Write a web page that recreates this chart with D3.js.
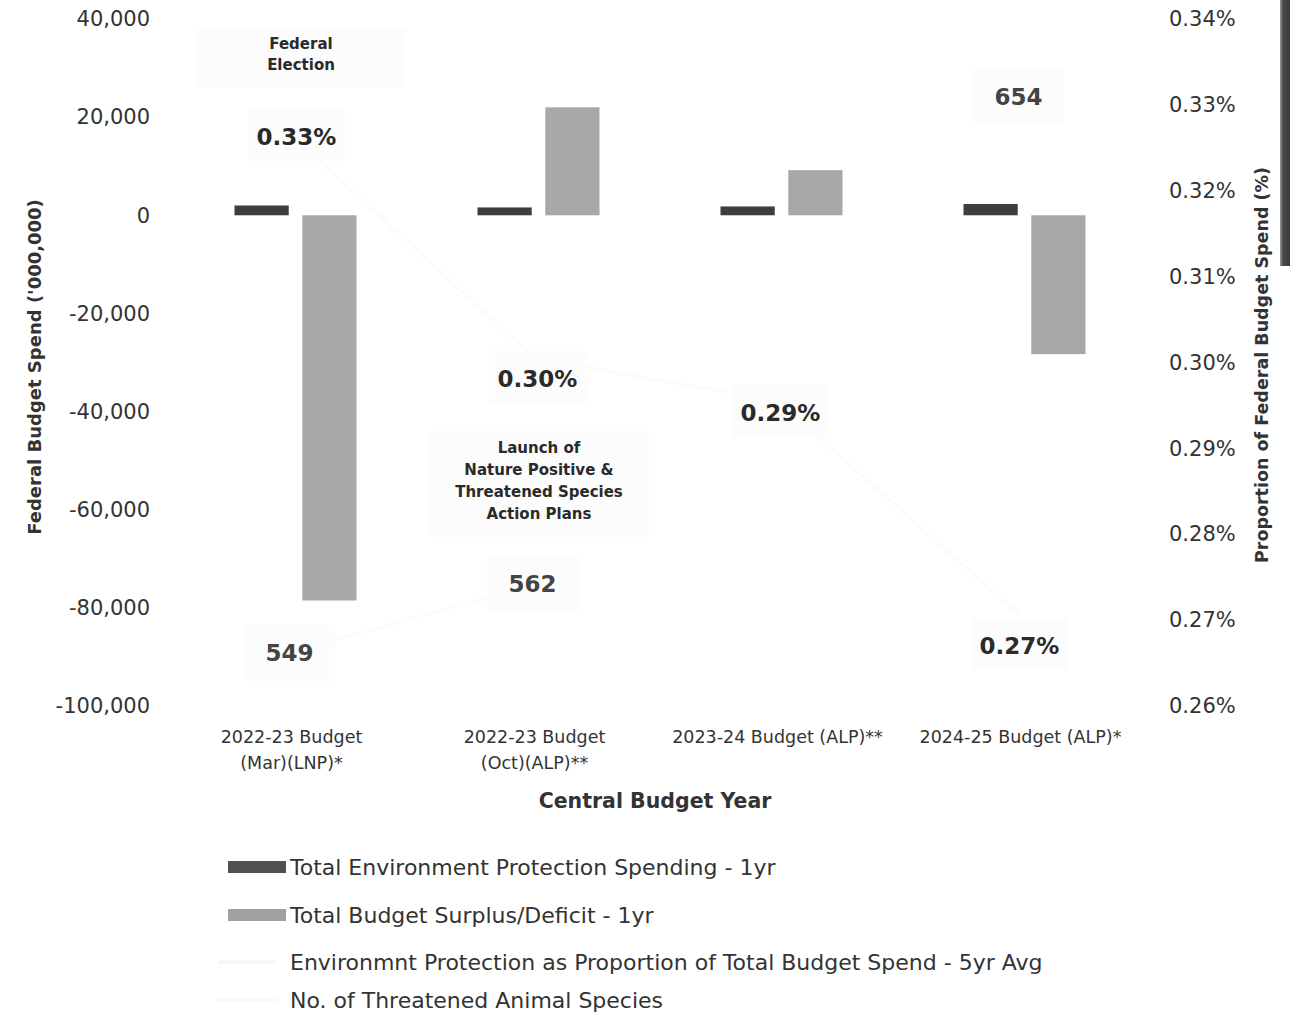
<!DOCTYPE html>
<html>
<head>
<meta charset="utf-8">
<script src="https://cdn.jsdelivr.net/npm/d3@7"></script>
<style>
  body { margin: 0; background: #fff; }
  svg { display: block; font-family: "DejaVu Sans", sans-serif; }
</style>
</head>
<body>
<svg width="1290" height="1013"></svg>
<script>
// data
var categories = ["2022-23 Budget|(Mar)(LNP)*", "2022-23 Budget|(Oct)(ALP)**", "2023-24 Budget (ALP)**", "2024-25 Budget (ALP)*"];
var envSpend = [2000, 1600, 1800, 2300];
var budgetBalance = [-78500, 22000, 9200, -28300];
var propAvg = [0.3265, 0.3005, 0.2955, 0.2705];
var propLabels = ["0.33%", "0.30%", "0.29%", "0.27%"];
var species = [549, 562, null, 654];
var leftTicks = [40000, 20000, 0, -20000, -40000, -60000, -80000, -100000];
var rightTicks = [0.34, 0.33, 0.32, 0.31, 0.30, 0.29, 0.28, 0.27, 0.26];

var width = 1290, height = 1013;
var svg = d3.select("svg");

var x = d3.scaleBand().domain(categories).range([170, 1142]);
var xSub = d3.scaleBand().domain(["env", "bal"]).range([-57, 65]).paddingInner(0.2);
var y = d3.scaleLinear().domain([-100000, 40000]).range([706, 19]);
var yR = d3.scaleLinear().domain([0.26, 0.34]).range([706, 19]);
// hidden scale for threatened species
var yS = d3.scaleLinear().domain([500, 700]).range([912, -147]);

function cx(d) { return x(d) + x.bandwidth() / 2; }

// scan artefact on the right edge
var grad = svg.append("defs").append("linearGradient").attr("id", "edge").attr("x1", 0).attr("x2", 1);
grad.append("stop").attr("offset", 0).attr("stop-color", "#999");
grad.append("stop").attr("offset", 0.3).attr("stop-color", "#4a4a4a");
grad.append("stop").attr("offset", 1).attr("stop-color", "#3a3a3a");
svg.append("rect").attr("x", 1280).attr("y", 0).attr("width", 10).attr("height", 266).attr("fill", "url(#edge)");

// left axis
var leftAxis = d3.axisLeft(y).tickValues(leftTicks).tickFormat(d => d3.format(",")(d).replace("−", "-")).tickSize(0).tickPadding(0);
var gL = svg.append("g").attr("transform", "translate(150,0)").call(leftAxis);
gL.select(".domain").remove();
gL.selectAll("text").attr("font-size", 21).attr("fill", "#333").attr("font-family", "DejaVu Sans");

// right axis
var rightAxis = d3.axisRight(yR).tickValues(rightTicks).tickFormat(d => d.toFixed(2) + "%").tickSize(0).tickPadding(0);
var gR = svg.append("g").attr("transform", "translate(1169,0)").call(rightAxis);
gR.select(".domain").remove();
gR.selectAll("text").attr("font-size", 21).attr("fill", "#333").attr("font-family", "DejaVu Sans");

// axis titles
svg.append("text").attr("transform", "translate(41,367) rotate(-90)")
  .attr("text-anchor", "middle").attr("font-size", 18).attr("font-weight", 700).attr("fill", "#333")
  .text("Federal Budget  Spend ('000,000)");
svg.append("text").attr("transform", "translate(1268,365) rotate(-90)")
  .attr("text-anchor", "middle").attr("font-size", 17.5).attr("font-weight", 700).attr("fill", "#333")
  .text("Proportion of Federal Budget Spend (%)");
svg.append("text").attr("x", 655).attr("y", 808).attr("text-anchor", "middle")
  .attr("font-size", 20.5).attr("font-weight", 700).attr("fill", "#333").text("Central Budget Year");

// category labels
var cat = svg.append("g").selectAll("text").data(categories).enter().append("text")
  .attr("x", d => cx(d)).attr("y", 743).attr("text-anchor", "middle")
  .attr("font-size", 17.5).attr("fill", "#333");
cat.selectAll("tspan").data(d => d.split("|")).enter().append("tspan")
  .attr("x", function () { return cx(d3.select(this.parentNode).datum()); })
  .attr("dy", (d, i) => i ? 26 : 0).text(d => d);

// bars
svg.append("g").selectAll("rect").data(categories).enter().append("rect")
  .attr("x", d => cx(d) + xSub("env")).attr("width", xSub.bandwidth())
  .attr("y", (d, i) => y(Math.max(0, envSpend[i]))).attr("height", (d, i) => Math.abs(y(envSpend[i]) - y(0)))
  .attr("fill", "#3d3d3d");
svg.append("g").selectAll("rect").data(categories).enter().append("rect")
  .attr("x", d => cx(d) + xSub("bal")).attr("width", xSub.bandwidth())
  .attr("y", (d, i) => y(Math.max(0, budgetBalance[i]))).attr("height", (d, i) => Math.abs(y(budgetBalance[i]) - y(0)))
  .attr("fill", "#a8a8a8");

// faint lines (almost washed out in the original)
var propLine = d3.line().x((d, i) => cx(categories[i])).y(d => yR(d));
svg.append("path").datum(propAvg).attr("d", propLine).attr("fill", "none")
  .attr("stroke", "#fbfbfb").attr("stroke-width", 3);
var spLine = d3.line().defined(d => d != null).x((d, i) => cx(categories[i])).y(d => yS(d));
svg.append("path").datum(species).attr("d", spLine).attr("fill", "none")
  .attr("stroke", "#fcfcfc").attr("stroke-width", 3);

// data labels with faint boxes
var propOffset = [2, 21, 12, 30];
var pl = svg.append("g").selectAll("g").data(propAvg).enter().append("g")
  .attr("transform", (d, i) => "translate(" + (cx(categories[i]) + [5, 3, 3, -1][i]) + "," + (yR(d) + propOffset[i]) + ")");
pl.append("rect").attr("x", -48).attr("y", -28).attr("width", 96).attr("height", 52).attr("fill", "#fcfcfc");
pl.append("text").attr("text-anchor", "middle").attr("dy", "0.35em")
  .attr("font-size", 23).attr("font-weight", 700).attr("fill", "#2a2a2a").text((d, i) => propLabels[i]);

var sl = svg.append("g").selectAll("g").data(species.map((d, i) => ({v: d, i: i})).filter(d => d.v != null))
  .enter().append("g")
  .attr("transform", d => "translate(" + (cx(categories[d.i]) - 2) + "," + yS(d.v) + ")");
sl.append("rect").attr("x", -45).attr("y", -28).attr("width", 90).attr("height", 56).attr("fill", "#fcfcfc");
sl.append("text").attr("text-anchor", "middle").attr("dy", "0.35em")
  .attr("font-size", 23).attr("font-weight", 700)
  .attr("fill", "#444").text(d => d.v);

// annotations
function note(xc, yc, lines, lh) {
  var g = svg.append("g");
  g.append("rect").attr("x", xc - lh * 5).attr("y", yc - lh).attr("width", lh * 10)
    .attr("height", lines.length * lh + lh * 0.8).attr("fill", "#fcfcfc");
  g.append("text").attr("text-anchor", "middle").attr("font-size", 15).attr("font-weight", 700).attr("fill", "#2a2a2a")
    .selectAll("tspan").data(lines).enter().append("tspan")
    .attr("x", xc).attr("y", (d, i) => yc + i * lh).text(d => d);
}
note(301, 49, ["Federal", "Election"], 21);
note(539, 453, ["Launch of", "Nature Positive &", "Threatened Species", "Action Plans"], 22);

// legend
var legendItems = [
  {label: "Total Environment Protection Spending - 1yr", color: "#505050", kind: "bar"},
  {label: "Total Budget Surplus/Deficit - 1yr", color: "#a0a0a0", kind: "bar"},
  {label: "Environmnt Protection as Proportion of Total Budget Spend - 5yr Avg", color: "#f6f6f6", kind: "line"},
  {label: "No. of Threatened Animal Species", color: "#f8f8f8", kind: "line"}
];
var legendY = [867, 915, 962, 1000];
var lg = svg.append("g").selectAll("g").data(legendItems).enter().append("g")
  .attr("transform", (d, i) => "translate(228," + legendY[i] + ")");
lg.filter(d => d.kind == "bar").append("rect").attr("x", 0).attr("y", -6).attr("width", 58).attr("height", 12).attr("fill", d => d.color);
lg.filter(d => d.kind == "line").append("line").attr("x1", -10).attr("x2", 48).attr("stroke", d => d.color).attr("stroke-width", 3);
lg.append("text").attr("x", 62).attr("dy", "0.35em").attr("font-size", 22).attr("fill", "#333").text(d => d.label);
</script>
</body>
</html>
